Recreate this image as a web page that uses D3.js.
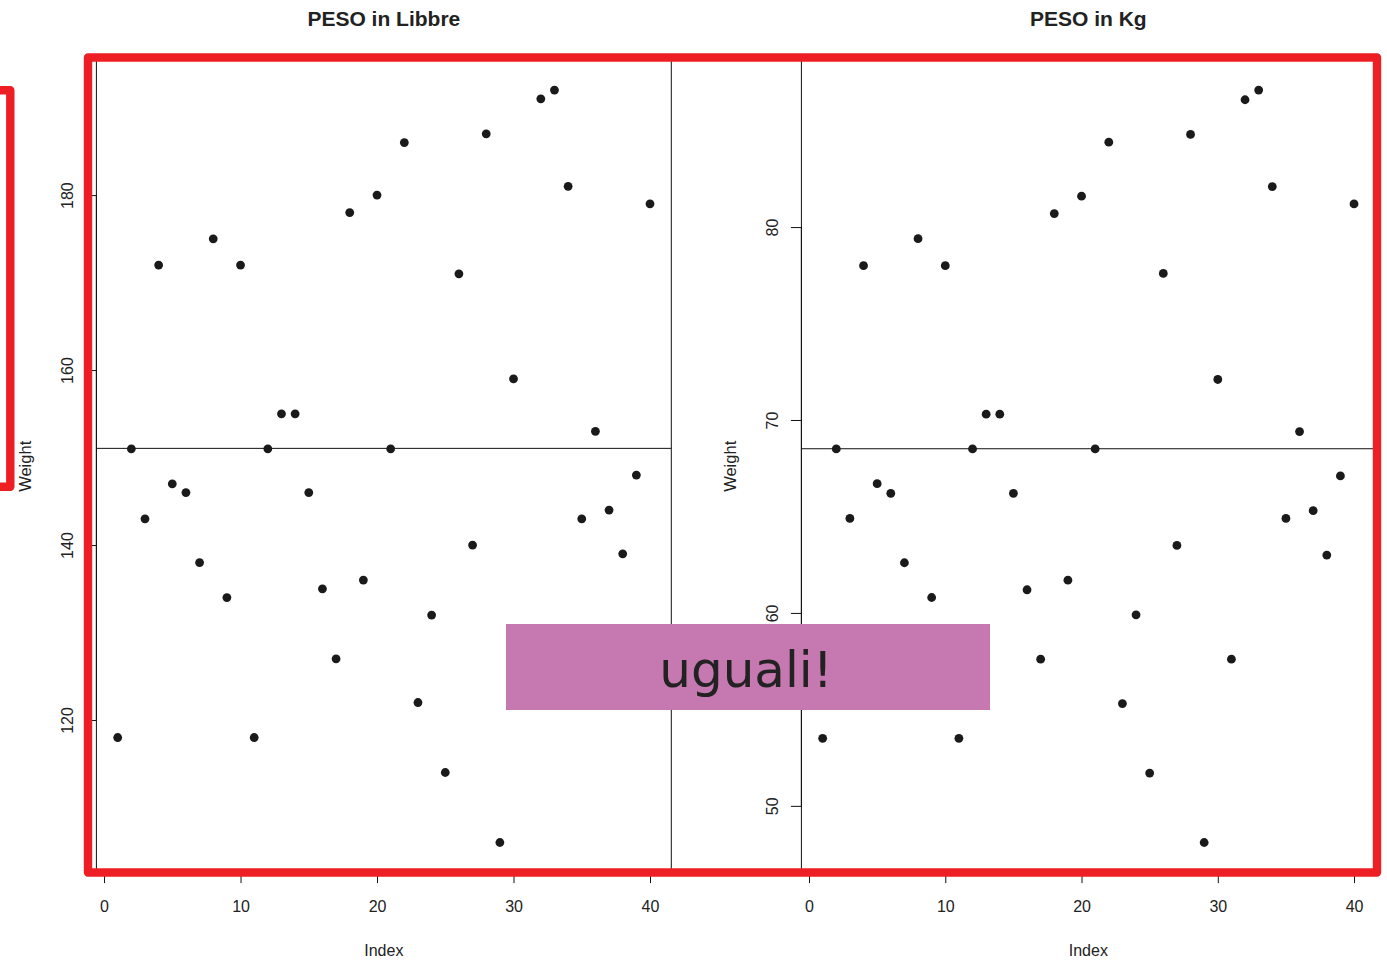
<!DOCTYPE html>
<html>
<head>
<meta charset="utf-8">
<script src="https://cdn.jsdelivr.net/npm/d3@7"></script>
<style>
  html, body { margin: 0; padding: 0; background: #ffffff; }
  svg { display: block; }
</style>
</head>
<body>
<script>
// ---- data ----
const index = d3.range(1, 41);
const pesoLibbre = [118, 151, 143, 172, 147, 146, 138, 175, 134, 172,
                    118, 151, 155, 155, 146, 135, 127, 178, 136, 180,
                    151, 186, 122, 132, 114, 171, 140, 187, 106, 159,
                    127, 191, 192, 181, 143, 153, 144, 139, 148, 179];
const pesoKg = [53.5, 68.5, 64.9, 78.0, 66.7, 66.2, 62.6, 79.4, 60.8, 78.0,
                53.5, 68.5, 70.3, 70.3, 66.2, 61.2, 57.6, 80.7, 61.7, 81.6,
                68.5, 84.4, 55.3, 59.9, 51.7, 77.6, 63.5, 84.8, 48.1, 72.1,
                57.6, 86.6, 87.1, 82.1, 64.9, 69.4, 65.3, 63.0, 67.1, 81.2];
const xTicks = [0, 10, 20, 30, 40];
const yTicksLibbre = [120, 140, 160, 180];
const yTicksKg = [50, 60, 70, 80];
const titles = ["PESO in Libbre", "PESO in Kg"];
const xLabel = "Index";
const yLabel = "Weight";
const noteText = "uguali!";

// ---- layout ----
const W = 1387, H = 960;
const svg = d3.select("body").append("svg").attr("width", W).attr("height", H);
svg.append("rect").attr("width", W).attr("height", H).attr("fill", "#fff");

const FONT = "'Liberation Sans', Arial, Helvetica, sans-serif";
const TXT = "#222";
const plotTop = 60, plotBottom = 872.6;
const panels = [
  { left: 96.4, right: 671.3, values: pesoLibbre, ticks: yTicksLibbre, title: titles[0] },
  { left: 801.4, right: 1375.3, values: pesoKg, ticks: yTicksKg, title: titles[1] }
];

function padded(ext) {
  const d = (ext[1] - ext[0]) * 0.04;
  return [ext[0] - d, ext[1] + d];
}

panels.forEach(p => {
  const g = svg.append("g");
  const x = d3.scaleLinear().domain(padded(d3.extent(index))).range([p.left, p.right]);
  const y = d3.scaleLinear().domain(padded(d3.extent(p.values))).range([plotBottom, plotTop]);

  // box
  g.append("rect")
    .attr("x", p.left).attr("y", plotTop)
    .attr("width", p.right - p.left).attr("height", plotBottom - plotTop)
    .attr("fill", "none").attr("stroke", "#111").attr("stroke-width", 1);

  // mean line
  const m = d3.mean(p.values);
  g.append("line")
    .attr("x1", p.left).attr("x2", p.right)
    .attr("y1", y(m)).attr("y2", y(m))
    .attr("stroke", "#111").attr("stroke-width", 1);

  // points
  g.selectAll("circle.pt").data(p.values).enter().append("circle")
    .attr("class", "pt")
    .attr("cx", (d, i) => x(index[i]))
    .attr("cy", d => y(d))
    .attr("r", 4.4)
    .attr("fill", "#1a1a1a");

  // x axis
  const xa = g.append("g").attr("transform", `translate(0,${plotBottom})`)
    .call(d3.axisBottom(x).tickValues(xTicks).tickSize(10.5).tickPadding(18).tickSizeOuter(0));
  xa.select(".domain").attr("d", `M${x(xTicks[0])},0H${x(xTicks[xTicks.length - 1])}`).attr("stroke", "#111");
  xa.selectAll(".tick line").attr("stroke", "#111");
  xa.selectAll(".tick text").attr("font-family", FONT).attr("font-size", 16).attr("fill", TXT);

  // y axis
  const ya = g.append("g").attr("transform", `translate(${p.left},0)`)
    .call(d3.axisLeft(y).tickValues(p.ticks).tickSize(10.5).tickSizeOuter(0));
  ya.select(".domain").attr("d", `M0,${y(p.ticks[0])}V${y(p.ticks[p.ticks.length - 1])}`).attr("stroke", "#111");
  ya.selectAll(".tick line").attr("stroke", "#111");
  ya.selectAll(".tick text")
    .attr("x", null).attr("dy", "0.35em")
    .attr("transform", "translate(-29,0) rotate(-90)")
    .attr("text-anchor", "middle")
    .attr("font-family", FONT).attr("font-size", 16).attr("fill", TXT);

  const cx = (p.left + p.right) / 2;
  // title
  svg.append("text").attr("x", cx).attr("y", 26)
    .attr("text-anchor", "middle").attr("font-family", FONT)
    .attr("font-size", 21).attr("font-weight", "bold").attr("fill", TXT)
    .text(p.title);
  // x label
  svg.append("text").attr("x", cx).attr("y", 956)
    .attr("text-anchor", "middle").attr("font-family", FONT)
    .attr("font-size", 16).attr("fill", TXT).text(xLabel);
  // y label
  svg.append("text")
    .attr("transform", `translate(${p.left - 65},${(plotTop + plotBottom) / 2}) rotate(-90)`)
    .attr("text-anchor", "middle").attr("font-family", FONT)
    .attr("font-size", 16.5).attr("fill", TXT).text(yLabel);
});

// ---- annotations ----
const RED = "#ed1f24";
svg.append("rect")
  .attr("x", 88).attr("y", 57.5).attr("width", 1289).attr("height", 815)
  .attr("fill", "none").attr("stroke", RED).attr("stroke-width", 8.4)
  .attr("stroke-linejoin", "round");
svg.append("path")
  .attr("d", "M-10,90.2H10.3V486.8H-10")
  .attr("fill", "none").attr("stroke", RED).attr("stroke-width", 8.4)
  .attr("stroke-linejoin", "round");

svg.append("rect")
  .attr("x", 506).attr("y", 624).attr("width", 484).attr("height", 86)
  .attr("fill", "#c678b0");
svg.append("text")
  .attr("x", 746).attr("y", 687)
  .attr("text-anchor", "middle")
  .attr("font-family", "'DejaVu Sans', sans-serif")
  .attr("font-size", 50).attr("fill", "#222")
  .text(noteText);
</script>
</body>
</html>
